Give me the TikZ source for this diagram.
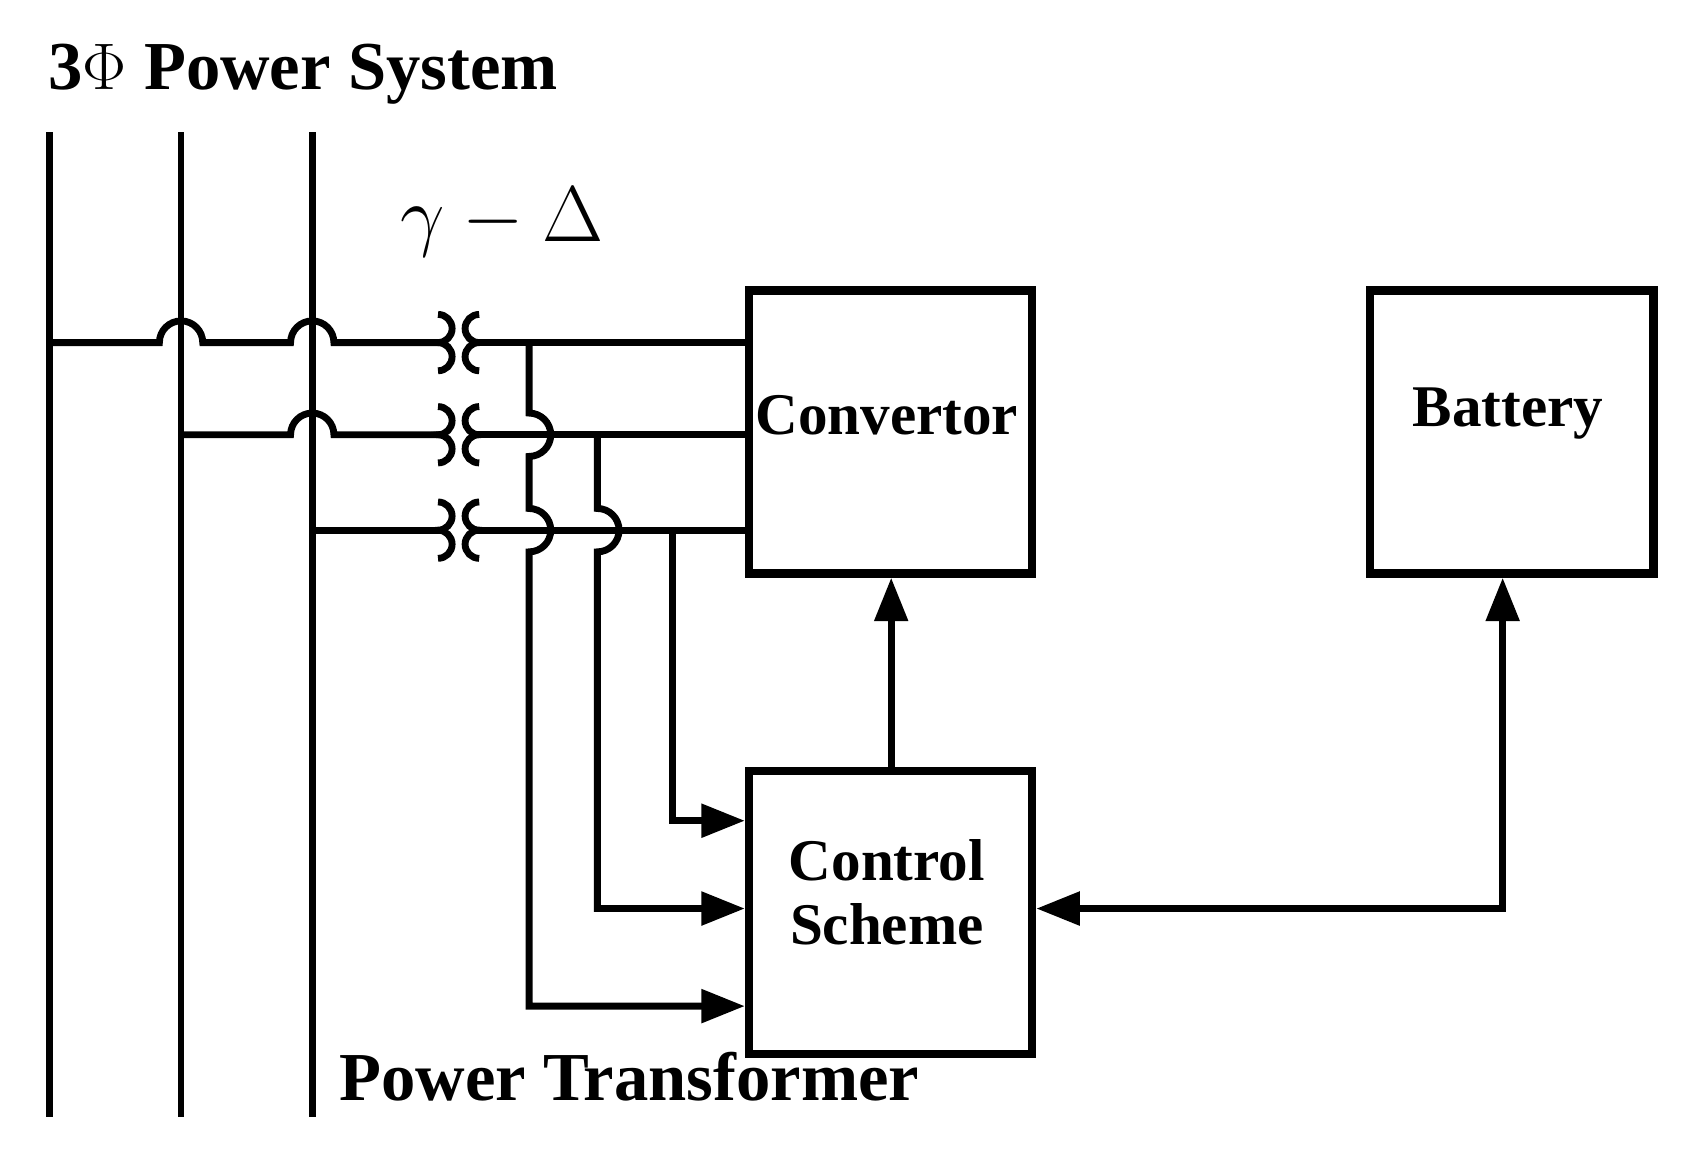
\documentclass[tikz,border=0pt]{standalone}
\usepackage{fontspec}
\setmainfont{Liberation Serif}
\usetikzlibrary{arrows.meta}
\begin{document}
\begin{tikzpicture}[x=0.01cm,y=-0.01cm,line width=1.8pt,
  box/.style={draw,line width=2.2pt,minimum width=2.61cm,minimum height=2.61cm,anchor=north west,inner sep=0pt},
  lbl/.style={font=\bfseries\fontsize{18}{21}\selectfont},
  blbl/.style={font=\bfseries\fontsize{15.5}{19}\selectfont,align=center},
  arr/.style={-{Triangle[length=0.4cm,width=0.3cm]}},
  darr/.style={{Triangle[length=0.4cm,width=0.3cm]}-{Triangle[length=0.4cm,width=0.3cm]}}]
\useasboundingbox (0,0) rectangle (1568,1061);
% text
\node[lbl,anchor=west] (title) at (30,68) {3$\Phi$ Power System};
\node[font=\fontsize{22}{25}\selectfont,anchor=center] (yd) at (463,205) {$\gamma-\Delta$};
\node[lbl,anchor=west] (pt) at (298,993) {Power Transformer};
% boxes
\node[box] (conv) at (687,264) {};
\node[blbl] at (818,383) {Convertor};
\node[box] (bat) at (1260,264) {};
\node[blbl] at (1391,381) {Battery};
\node[box] (ctrl) at (687,707) {};
\node[blbl] at (818,823) {Control\\[-2pt]Scheme};
% buses
\coordinate (b1t) at (46,122); \coordinate (b1b) at (46,1030);
\coordinate (b2t) at (167,122); \coordinate (b2b) at (167,1030);
\coordinate (b3t) at (288,122); \coordinate (b3b) at (288,1030);
\draw (b1t) -- (b1b); \draw (b2t) -- (b2b); \draw (b3t) -- (b3b);
% line 1
\draw (46,316) -- (147,316) arc (180:360:20) -- (268,316) arc (180:360:20) -- (410,316);
\draw (436,316) -- (687,316);
% line 2
\draw (167,401) -- (268,401) arc (180:360:20) -- (410,401);
\draw (436,401) -- (687,401);
% line 3
\draw (288,489) -- (410,489);
\draw (436,489) -- (687,489);
% transformers
\foreach \y in {316,401,489}{
  \draw (404,\y-26) arc (-90:90:13) arc (-90:90:13);
  \draw (442,\y-26) arc (270:90:13) arc (270:90:13);
}
% taps
\coordinate (t1) at (488,928);
\coordinate (t2) at (551,838);
\coordinate (t3) at (620,757);
\draw[arr] (488,316) -- (488,381) arc (-90:90:20) -- (488,469) arc (-90:90:20) -- (t1) -- (ctrl.west |- t1);
\draw[arr] (551,401) -- (551,469) arc (-90:90:20) -- (t2) -- (ctrl.west |- t2);
\draw[arr] (620,489) -- (t3) -- (ctrl.west |- t3);
% control arrows
\draw[arr] (ctrl.north -| 822,0) -- (conv.south -| 822,0);
\coordinate (bc) at (1386,838);
\draw[darr] (ctrl.east |- bc) -- (bc) -- (bat.south -| bc);
\end{tikzpicture}
\end{document}
